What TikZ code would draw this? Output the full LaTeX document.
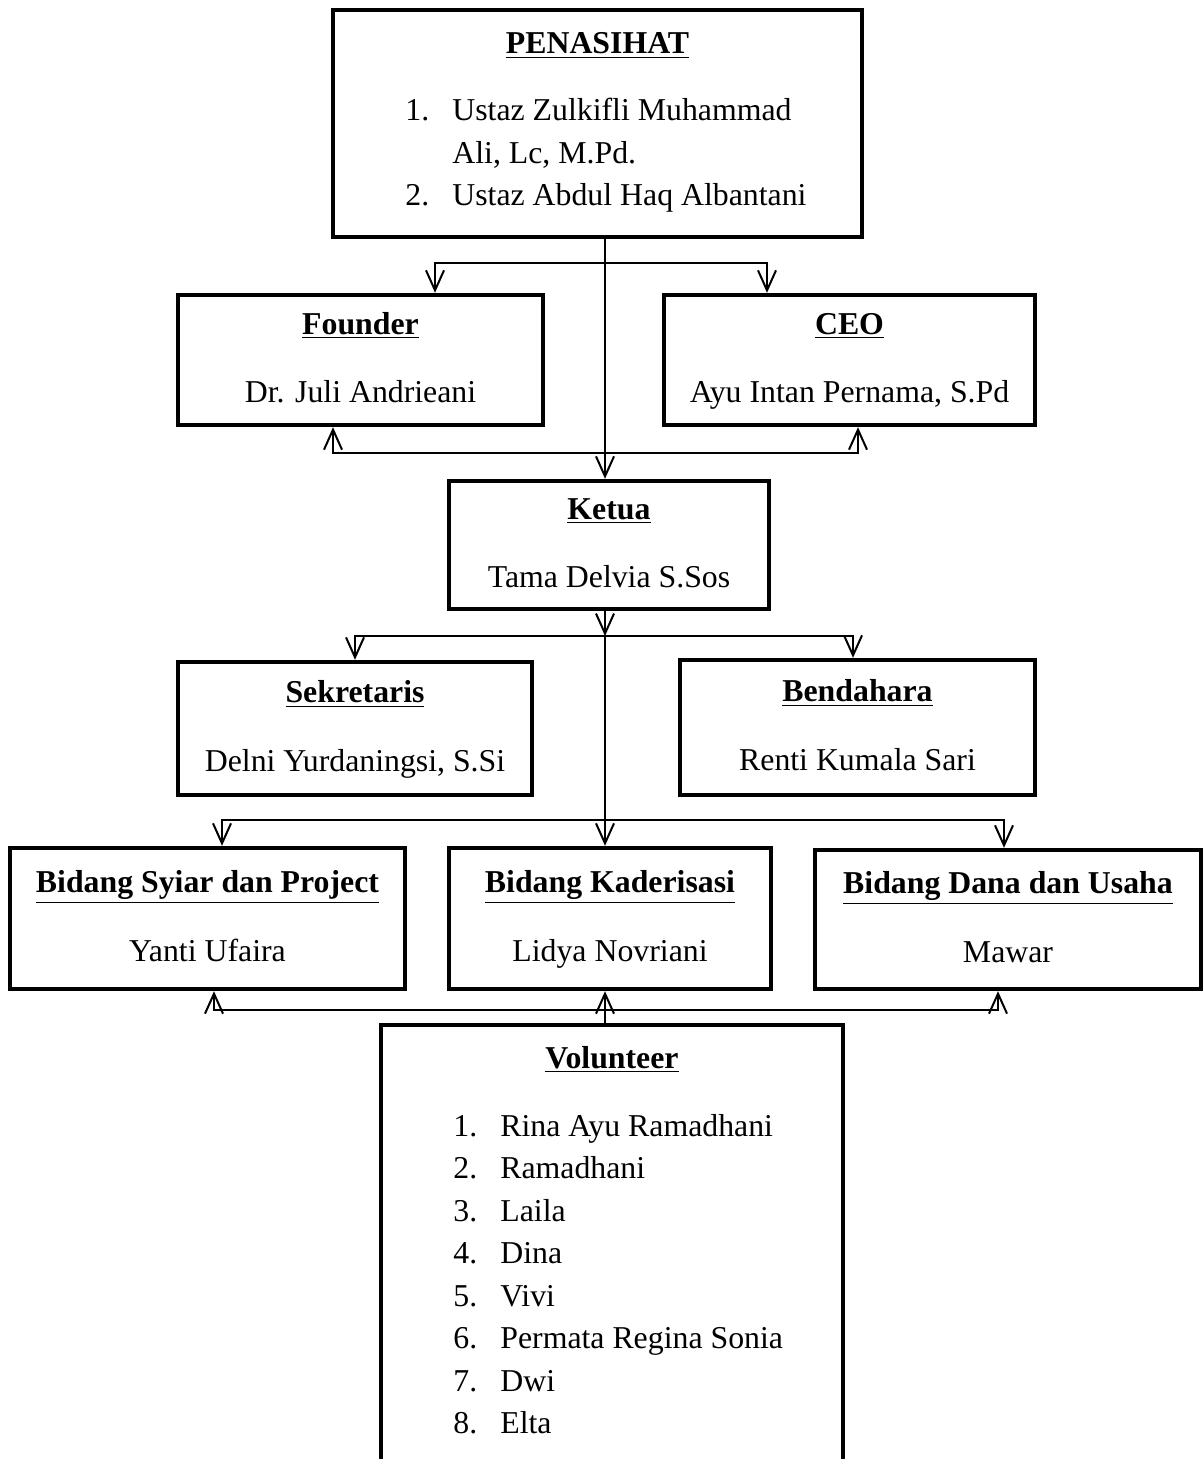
\documentclass[tikz,border=0pt]{standalone}
\usepackage{fontspec}
\setmainfont{Liberation Serif}
\usetikzlibrary{arrows.meta}

\newcommand{\orgtitle}[1]{\strut\underline{\textbf{#1}}}
\newcommand{\orgname}[1]{\strut#1}

\begin{document}
\begin{tikzpicture}[x=0.5pt,y=-0.5pt,
		font=\fontsize{15.9}{21.25}\selectfont,
		>={Straight Barb[length=10pt,width=9pt]}]
				\tikzstyle{box}=[draw,line width=2.2pt,inner sep=0pt,align=center]
				\tikzstyle{link}=[line width=1pt]
				\tikzstyle{list}=[inner sep=0pt,anchor=base west]

				\fill[white] (0,0) rectangle (1203,1459);
				\clip (0,0) rectangle (1203,1459);

				% boxes
				\node [box,minimum width=264.5pt,minimum height=113.5pt] (pen) at (597.5,123.5) {};
				\node [anchor=base] (pentitle) at (597.5,54) {\orgtitle{PENASIHAT}};
				\node [list] (penlist) at (405,121) {\begin{tabular}[t]{@{}p{23.5pt}@{}l@{}}
						1. & Ustaz Zulkifli Muhammad\\
						   & Ali, Lc, M.Pd.\\
						2. & Ustaz Abdul Haq Albantani
					\end{tabular}};

				\node [box,minimum width=182.5pt,minimum height=65pt] (founder) at (360.5,360)
					{\orgtitle{Founder}\\[12.8pt]\orgname{Dr. Juli Andrieani}};
				\node [box,minimum width=185.5pt,minimum height=65pt] (ceo) at (849.5,360)
					{\orgtitle{CEO}\\[12.8pt]\orgname{Ayu Intan Pernama, S.Pd}};

				\node [box,minimum width=160pt,minimum height=64pt] (ketua) at (609,545)
					{\orgtitle{Ketua}\\[12.8pt]\orgname{Tama Delvia S.Sos}};

				\node [box,minimum width=177pt,minimum height=66.5pt] (sek) at (355,728.5)
					{\orgtitle{Sekretaris}\\[12.8pt]\orgname{Delni Yurdaningsi, S.Si}};
				\node [box,minimum width=177.5pt,minimum height=67.5pt] (bend) at (857.5,727.5)
					{\orgtitle{Bendahara}\\[12.8pt]\orgname{Renti Kumala Sari}};

				\node [box,minimum width=197.5pt,minimum height=70.5pt] (syiar) at (207.5,918.5)
					{\orgtitle{Bidang Syiar dan Project}\\[12.8pt]\orgname{Yanti Ufaira}};
				\node [box,minimum width=161pt,minimum height=70.5pt] (kader) at (610,918.5)
					{\orgtitle{Bidang Kaderisasi}\\[12.8pt]\orgname{Lidya Novriani}};
				\node [box,minimum width=193pt,minimum height=69.5pt] (dana) at (1008,919.5)
					{\orgtitle{Bidang Dana dan Usaha}\\[12.8pt]\orgname{Mawar}};

				\node [box,minimum width=231pt,minimum height=222.5pt] (vol) at (612,1247.5) {};
				\node [anchor=base] (voltitle) at (612,1068) {\orgtitle{Volunteer}};
				\node [list] (vollist) at (453,1136) {\begin{tabular}[t]{@{}p{23.5pt}@{}l@{}}
						1. & Rina Ayu Ramadhani\\
						2. & Ramadhani\\
						3. & Laila\\
						4. & Dina\\
						5. & Vivi\\
						6. & Permata Regina Sonia\\
						7. & Dwi\\
						8. & Elta
					\end{tabular}};

				% junctions
				\coordinate (mid) at (605,263);
				\coordinate (fdin) at (435,263);
				\coordinate (ceoin) at (767,263);
				\coordinate (fdout) at (333,453);
				\coordinate (ceoout) at (858,453);
				\coordinate (kt) at (605,636);
				\coordinate (sk) at (355,636);
				\coordinate (bd) at (853,636);
				\coordinate (sy) at (222,820);
				\coordinate (dn) at (1004,820);
				\coordinate (syb) at (214,1010);
				\coordinate (dnb) at (998,1010);

				% connectors
				\draw[link,->] (pen.south -| mid) -- (ketua.north -| mid);
				\draw[link,<->] (founder.north -| fdin) -- (fdin) -- (ceoin) -- (ceoin |- ceo.north);
				\draw[link,<->] (founder.south -| fdout) -- (fdout) -- (ceoout) -- (ceoout |- ceo.south);

				\draw[link,->] (ketua.south -| kt) -- (kt);
				\draw[link,<->] (sek.north -| sk) -- (sk) -- (bd) -- (bd |- bend.north);
				\draw[link,->] (kt) -- (kader.north -| kt);

				\draw[link,<->] (syiar.north -| sy) -- (sy) -- (dn) -- (dn |- dana.north);
				\draw[link,<->] (syiar.south -| syb) -- (syb) -- (dnb) -- (dnb |- dana.south);
				\draw[link,->] (vol.north -| kt) -- (kader.south -| kt);

\end{tikzpicture}
\end{document}
